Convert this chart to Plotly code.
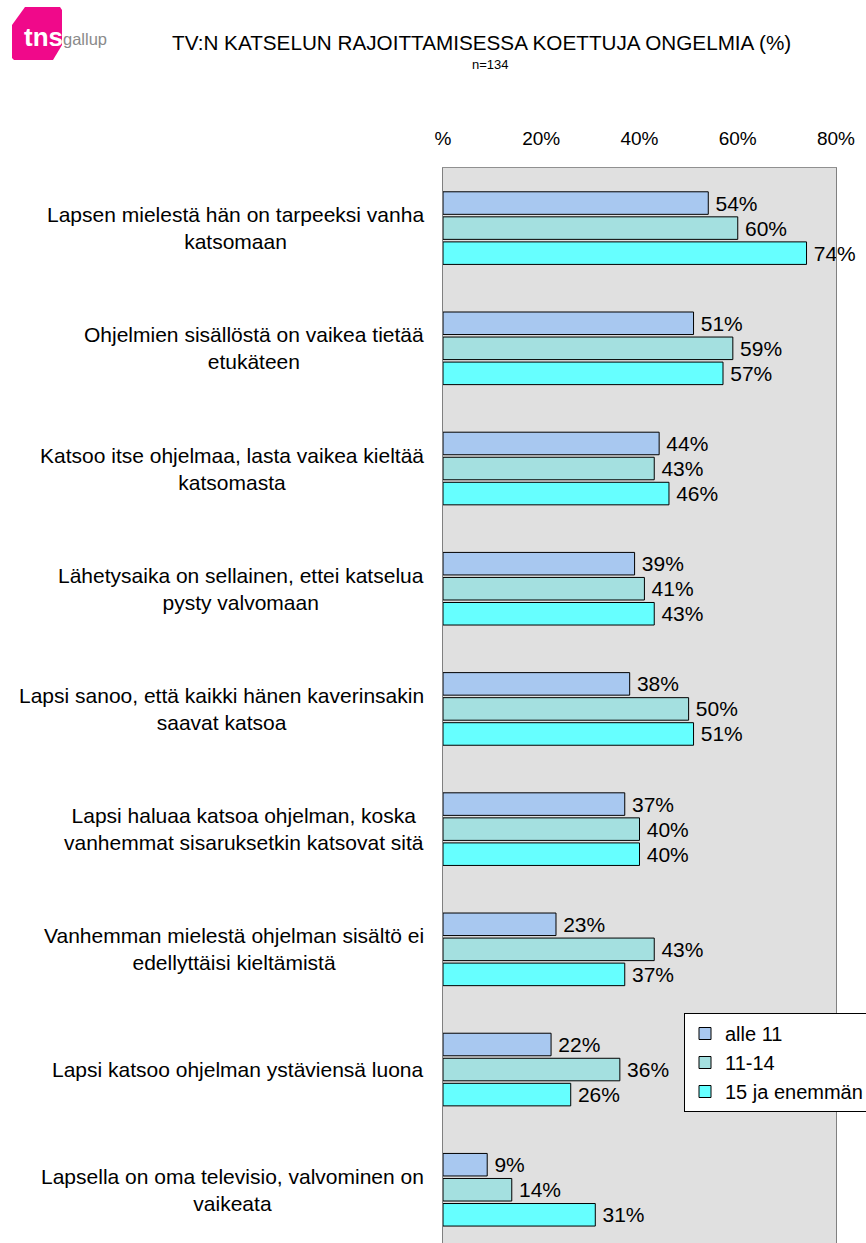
import plotly.graph_objects as go

categories = [
    "Lapsen mielestä hän on tarpeeksi vanha<br>katsomaan",
    "Ohjelmien sisällöstä on vaikea tietää<br>etukäteen",
    "Katsoo itse ohjelmaa, lasta vaikea kieltää<br>katsomasta",
    "Lähetysaika on sellainen, ettei katselua<br>pysty valvomaan",
    "Lapsi sanoo, että kaikki hänen kaverinsakin<br>saavat katsoa",
    "Lapsi haluaa katsoa ohjelman, koska<br>vanhemmat sisaruksetkin katsovat sitä",
    "Vanhemman mielestä ohjelman sisältö ei<br>edellyttäisi kieltämistä",
    "Lapsi katsoo ohjelman ystäviensä luona",
    "Lapsella on oma televisio, valvominen on<br>vaikeata",
]
series_names = ["alle 11", "11-14", "15 ja enemmän"]
alle11 = [54, 51, 44, 39, 38, 37, 23, 22, 9]
v11_14 = [60, 59, 43, 41, 50, 40, 43, 36, 14]
v15plus = [74, 57, 46, 43, 51, 40, 37, 26, 31]
tick_vals = [0, 20, 40, 60, 80]
tick_text = ["%", "20%", "40%", "60%", "80%"]
colors = ["#A8C8F0", "#A4E0E0", "#66FFFF"]

W, H = 866, 1243
ML, MR, MT, MB = 443, 30, 168, 0
PW = W - ML - MR
PH = H - MT - MB


def px(x):
    return (x - ML) / PW


def py(y):
    return 1 + (MT - y) / PH


FONT = "Liberation Sans, Arial, sans-serif"
ypos = list(range(len(categories)))

fig = go.Figure()
for name, vals, col in zip(series_names, [alle11, v11_14, v15plus], colors):
    fig.add_trace(go.Bar(
        y=ypos, x=vals, orientation="h", name=name,
        marker=dict(color=col, line=dict(color="#000000", width=1)),
        text=[f"\u2009{v}%" for v in vals], textposition="outside",
        textfont=dict(size=21, color="#000000", family=FONT),
        constraintext="none", cliponaxis=False,
    ))

annotations = []
for i, c in enumerate(categories):
    annotations.append(dict(
        x=px(426), xref="paper", y=i, yref="y", text=c, showarrow=False,
        xanchor="right", yanchor="middle", align="center",
        font=dict(size=21, color="#000000", family=FONT),
    ))
annotations.append(dict(
    x=px(481), xref="paper", y=py(42), yref="paper",
    text="TV:N KATSELUN RAJOITTAMISESSA KOETTUJA ONGELMIA (%)",
    showarrow=False, xanchor="center", yanchor="middle",
    font=dict(size=20.7, color="#000000", family=FONT),
))
annotations.append(dict(
    x=px(490), xref="paper", y=py(65), yref="paper", text="n=134",
    showarrow=False, xanchor="center", yanchor="middle",
    font=dict(size=13, color="#000000", family=FONT),
))
# logo texts
annotations.append(dict(
    x=px(43), xref="paper", y=py(37), yref="paper", text="<b>tns</b>",
    showarrow=False, xanchor="center", yanchor="middle",
    font=dict(size=26, color="#FFFFFF", family=FONT),
))
annotations.append(dict(
    x=px(61), xref="paper", y=py(39), yref="paper", text="gallup",
    showarrow=False, xanchor="left", yanchor="middle",
    font=dict(size=16.5, color="#8A8A8A", family="Liberation Sans Narrow, Liberation Sans, Arial"),
))

logo_pts = [(25, 7), (60, 7), (62, 10), (62, 45), (53, 60), (14, 60), (12, 58), (12, 25)]
path = "M " + " L ".join(f"{px(a):.5f},{py(b):.5f}" for a, b in logo_pts) + " Z"
shapes = [dict(type="path", path=path, xref="paper", yref="paper",
               fillcolor="#F0098A", line=dict(width=0), layer="below")]

fig.update_layout(
    width=W, height=H,
    margin=dict(l=ML, r=MR, t=MT, b=MB, pad=0, autoexpand=False),
    paper_bgcolor="#FFFFFF", plot_bgcolor="#E0E0E0",
    barmode="group", bargap=0.375, bargroupgap=0.1,
    font=dict(family=FONT, color="#000000"),
    xaxis=dict(range=[0, 80], side="top", tickvals=tick_vals, ticktext=tick_text,
               showgrid=False, zeroline=False, ticks="", ticklabelstandoff=14,
               tickfont=dict(size=19, family=FONT, color="#000000"),
               showline=True, linecolor="#909090", linewidth=1, fixedrange=True,
               automargin=False),
    yaxis=dict(range=[8.443, -0.5], showticklabels=False, showgrid=False,
               zeroline=False, ticks="", showline=True, mirror=True,
               linecolor="#808080", linewidth=1, fixedrange=True,
               automargin=False),
    legend=dict(x=px(684), y=py(1013), xanchor="left", yanchor="top",
                bgcolor="#FFFFFF", bordercolor="#000000", borderwidth=1,
                font=dict(size=20, family=FONT, color="#000000"),
                traceorder="normal", itemwidth=30),
    annotations=annotations, shapes=shapes,
    showlegend=True,
)

fig.write_html(
    "out.html",
    config={"displayModeBar": False},
    post_script="document.body.style.margin='0';document.body.style.padding='0';",
)
